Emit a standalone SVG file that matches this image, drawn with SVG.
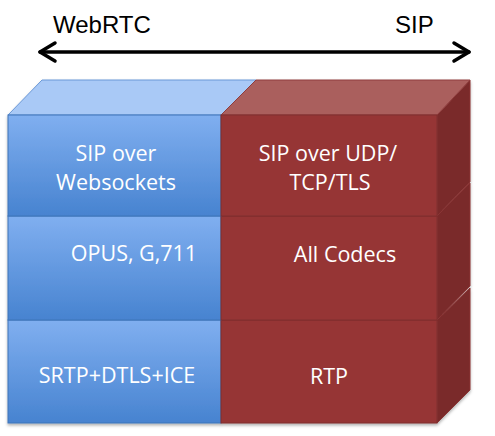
<svg xmlns="http://www.w3.org/2000/svg" width="495" height="436" viewBox="0 0 495 436">
<defs>
<linearGradient id="blueG" x1="0" y1="0" x2="0" y2="1">
<stop offset="0" stop-color="#80aff0"/>
<stop offset="1" stop-color="#4783d0"/>
</linearGradient>
<filter id="sh" x="-5%" y="-5%" width="110%" height="115%">
<feDropShadow dx="0" dy="2" stdDeviation="1.5" flood-color="#000" flood-opacity="0.3"/>
</filter>
</defs>
<style>
.lbl{font-family:"Open Sans","Liberation Sans",sans-serif;font-size:21.5px;fill:#fff;text-anchor:middle}
.hdr{font-family:"Liberation Sans",Arial,sans-serif;font-size:24px;fill:#000}
.bf{fill:url(#blueG);stroke:#3f74b8;stroke-width:1}
.rf{fill:#963635;stroke:#7f2c2c;stroke-width:1}
.rs{fill:#7a2b2b;stroke:#8a3535;stroke-width:1}
.bt{fill:#a9c9f6;stroke:#6a98d6;stroke-width:1}
.rt{fill:#aa5e5d;stroke:#8f3e3e;stroke-width:1}
.arr{fill:none;stroke:#000;stroke-width:3.5;stroke-linecap:round;stroke-linejoin:round}
</style>
<text class="hdr" x="53" y="33">WebRTC</text>
<text class="hdr" x="395" y="33">SIP</text>
<g id="connectors">
<path class="arr" d="M40 52 H469"/>
<path class="arr" d="M55 43 L40 52 L55 61"/>
<path class="arr" d="M454 43 L469 52 L454 61"/>
</g>
<g id="stack" filter="url(#sh)">
<g id="row3">
<polygon class="rs" points="437,320 470,288 470,390 437,423"/>
<rect class="bf" x="8" y="320" width="213" height="103"/>
<rect class="rf" x="221" y="320" width="216" height="103"/>
</g>
<g id="row2">
<polygon class="rs" points="437,216 470,183 470,286 437,320"/>
<rect class="bf" x="8" y="216" width="213" height="104"/>
<rect class="rf" x="221" y="216" width="216" height="104"/>
</g>
<g id="row1">
<polygon class="rs" points="437,115 470,80 470,182 437,216"/>
<polygon class="bt" points="42,80 256,80 221,115 8,115"/>
<polygon class="rt" points="256,80 470,80 437,115 221,115"/>
<rect class="bf" x="8" y="115" width="213" height="101"/>
<rect class="rf" x="221" y="115" width="216" height="101"/>
</g>
</g>
<g id="webrtc-signaling"><text class="lbl" x="116" y="161">SIP over</text><text class="lbl" x="116" y="190">Websockets</text></g>
<g id="webrtc-codecs"><text class="lbl" x="134" y="261">OPUS, G,711</text></g>
<g id="webrtc-transport"><text class="lbl" x="117" y="383">SRTP+DTLS+ICE</text></g>
<g id="sip-signaling"><text class="lbl" x="328" y="161">SIP over UDP/</text><text class="lbl" x="330" y="190">TCP/TLS</text></g>
<g id="sip-codecs"><text class="lbl" x="345" y="262">All Codecs</text></g>
<g id="sip-transport"><text class="lbl" x="329" y="384">RTP</text></g>
</svg>
